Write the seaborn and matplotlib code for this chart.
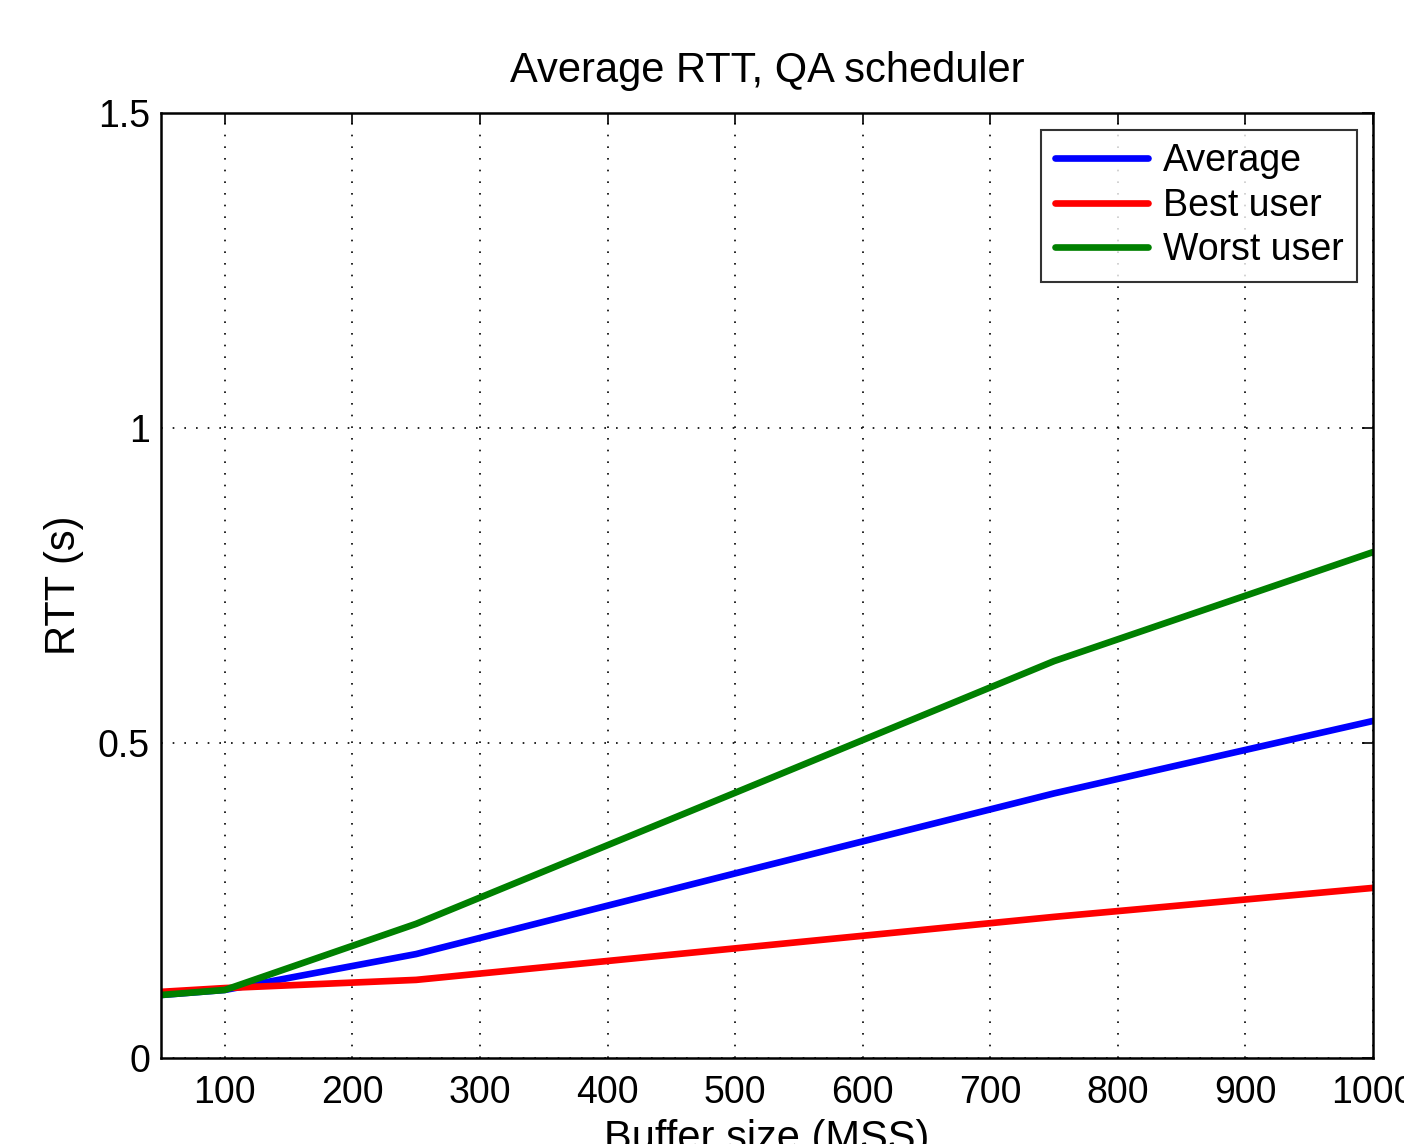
import matplotlib
matplotlib.use("Agg")
import matplotlib.pyplot as plt
import seaborn as sns
import pandas as pd

# buffer sizes (MSS) and RTT values (s)
buffer_size = [50, 100, 250, 500, 750, 1000]
rtt_average = [0.100, 0.108, 0.165, 0.293, 0.420, 0.535]
rtt_best = [0.105, 0.111, 0.124, 0.174, 0.224, 0.270]
rtt_worst = [0.100, 0.108, 0.213, 0.421, 0.630, 0.803]

series_names = ["Average", "Best user", "Worst user"]
series_colors = ["#0000ff", "#ff0000", "#008000"]

x_ticks = [100, 200, 300, 400, 500, 600, 700, 800, 900, 1000]
y_ticks = [0, 0.5, 1, 1.5]
y_tick_labels = ["0", "0.5", "1", "1.5"]

rows = []
for name, vals in zip(series_names, [rtt_average, rtt_best, rtt_worst]):
    for x, v in zip(buffer_size, vals):
        rows.append({"buffer": x, "rtt": v, "series": name})
df = pd.DataFrame(rows)

sns.set_style("white")
plt.rcParams['font.family'] = ['Liberation Sans', 'DejaVu Sans']
plt.rcParams['text.color'] = 'black'
plt.rcParams['axes.labelcolor'] = 'black'

fig = plt.figure(figsize=(14.04, 11.44), dpi=100)
ax = fig.add_axes([161 / 1404, 1 - 1058 / 1144, (1373 - 161) / 1404, (1058 - 113) / 1144])

sns.lineplot(data=df, x="buffer", y="rtt", hue="series", hue_order=series_names,
             palette=series_colors, linewidth=4.8, ax=ax, legend=True)

ax.set_xlim(50, 1000)
ax.set_ylim(0, 1.5)
ax.set_xticks(x_ticks)
ax.set_yticks(y_ticks)
ax.set_yticklabels(y_tick_labels)
ax.tick_params(direction="in", length=8, width=1.2, top=True, right=True,
               labelsize=27, colors="black")
ax.tick_params(axis="x", pad=12)
ax.tick_params(axis="y", pad=8)
ax.grid(True, linestyle=(0, (1, 6)), color="black", linewidth=1.2)
for s in ax.spines.values():
    s.set_color("black")
    s.set_linewidth(1.8)
    s.set_visible(True)

ax.set_title("Average RTT, QA scheduler", fontsize=30, pad=22, color="black")
ax.set_xlabel("Buffer size (MSS)", fontsize=30, labelpad=6)
ax.set_ylabel("RTT (s)", fontsize=30, labelpad=10)

leg = ax.legend(loc="upper right", fontsize=27, frameon=True, fancybox=False,
                edgecolor="black", handlelength=2.5, handletextpad=0.4,
                borderpad=0.35, labelspacing=0.23, borderaxespad=0,
                bbox_to_anchor=(1 - 16 / 1212, 1 - 17 / 945))
leg.get_frame().set_linewidth(1.5)
for line in leg.get_lines():
    line.set_linewidth(4.8)

fig.savefig("out.png", dpi=100)
